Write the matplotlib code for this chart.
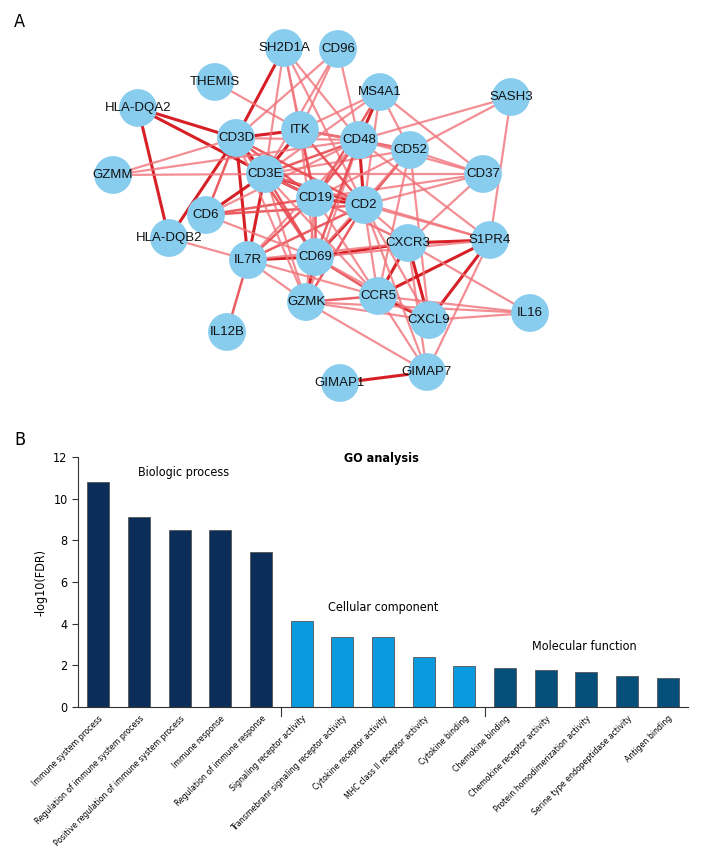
import matplotlib
matplotlib.use("Agg")
import matplotlib.pyplot as plt
from matplotlib import font_manager
from matplotlib.collections import LineCollection
import numpy as np

# ---------- panel A : PPI network ----------
node_names = ["SH2D1A", "CD96", "THEMIS", "MS4A1", "SASH3", "HLA-DQA2", "ITK", "CD3D",
              "CD48", "CD52", "CD37", "GZMM", "CD3E", "CD19", "CD2", "CD6", "HLA-DQB2",
              "IL7R", "CD69", "CXCR3", "S1PR4", "GZMK", "CCR5", "CXCL9", "IL16", "IL12B",
              "GIMAP1", "GIMAP7"]
node_x = [284, 338, 215, 380, 511, 138, 300, 236, 359, 410, 483, 113, 265, 315, 364, 206, 169,
          248, 315, 408, 490, 306, 378, 429, 530, 227, 340, 427]
node_y = [48, 49, 82, 92, 97, 108, 130, 138, 140, 150, 174, 175, 174, 198, 205, 215, 238,
          260, 257, 243, 240, 302, 296, 320, 313, 332, 383, 372]

# strength 3 = strong (dark red), 2 = medium, 1 = weak (light red)
edges = [
    ("HLA-DQA2", "CD3D", 3), ("HLA-DQA2", "CD3E", 3), ("HLA-DQA2", "HLA-DQB2", 3),
    ("HLA-DQB2", "CD3D", 3), ("SH2D1A", "CD3D", 3), ("CD3D", "ITK", 3), ("CD3D", "CD3E", 3),
    ("CD3E", "CD19", 3), ("CD3E", "CD2", 3), ("CD3E", "CD48", 2), ("CD2", "CD19", 3),
    ("CD2", "CD48", 3), ("CD2", "CD69", 3), ("CD2", "GZMK", 2), ("CD2", "IL7R", 2),
    ("CD69", "IL7R", 3), ("CD69", "CXCR3", 3), ("CXCR3", "S1PR4", 3), ("CCR5", "CXCL9", 3),
    ("CCR5", "S1PR4", 3), ("CCR5", "CXCR3", 3), ("CXCR3", "CXCL9", 3), ("S1PR4", "CXCL9", 3),
    ("GIMAP1", "GIMAP7", 3), ("CD6", "CD3E", 3), ("CD6", "CD3D", 2), ("IL7R", "CD3E", 3),
    ("CD3E", "ITK", 3), ("ITK", "CD48", 2), ("CD48", "MS4A1", 3), ("CD52", "CD48", 2),
    ("GZMK", "CD69", 3), ("IL7R", "CD3D", 3), ("CD6", "CD19", 2), ("CD6", "CD2", 2),
    ("THEMIS", "ITK", 1), ("GZMM", "CD3D", 1), ("GZMM", "CD3E", 1),
    ("SH2D1A", "ITK", 1), ("SH2D1A", "CD48", 1), ("SH2D1A", "CD2", 1), ("SH2D1A", "CD19", 1),
    ("SH2D1A", "CD3E", 1), ("CD96", "ITK", 1), ("CD96", "CD3E", 1), ("CD96", "CD48", 1),
    ("CD96", "CD3D", 1), ("MS4A1", "ITK", 1), ("MS4A1", "CD19", 2), ("MS4A1", "CD2", 1),
    ("MS4A1", "CD52", 1), ("MS4A1", "CD37", 1), ("MS4A1", "CD3E", 1), ("SASH3", "CD48", 1),
    ("SASH3", "CD52", 1), ("SASH3", "S1PR4", 1), ("CD37", "CD48", 1), ("CD37", "CD52", 1),
    ("CD37", "CD2", 1), ("CD37", "CD3E", 1), ("CD37", "CD19", 1), ("CD37", "CXCR3", 1),
    ("CD52", "CD3E", 1), ("CD52", "CD2", 2), ("CD52", "CD19", 1), ("CD52", "CXCL9", 1),
    ("CD52", "CCR5", 1), ("CD52", "CD69", 1), ("CD6", "CD48", 1), ("CD6", "CD69", 1),
    ("HLA-DQB2", "IL7R", 1), ("IL7R", "IL12B", 2), ("IL7R", "CD19", 2), ("IL7R", "GZMK", 1),
    ("IL7R", "CCR5", 1), ("IL7R", "CXCR3", 1), ("IL7R", "CD48", 1), ("GZMK", "CCR5", 2),
    ("GZMK", "CXCL9", 1), ("GZMK", "GIMAP7", 1), ("GZMK", "CD3E", 1), ("GZMK", "IL16", 1),
    ("GZMK", "CD19", 1), ("GZMK", "CD48", 1), ("CCR5", "GIMAP7", 1), ("CCR5", "IL16", 1),
    ("CCR5", "CD69", 2), ("CCR5", "CD19", 1), ("CCR5", "CD3E", 1), ("CCR5", "CD2", 1),
    ("CXCR3", "CD2", 1), ("CXCR3", "IL16", 1), ("CXCR3", "CD19", 1), ("CXCR3", "CD3E", 1),
    ("CXCR3", "GIMAP7", 1), ("S1PR4", "GIMAP7", 1), ("S1PR4", "CD2", 1), ("S1PR4", "CD48", 1),
    ("S1PR4", "CD3E", 1), ("S1PR4", "CD69", 1), ("IL16", "CXCL9", 1), ("CXCL9", "CD2", 1),
    ("CXCL9", "CD69", 1), ("CD69", "CD19", 2), ("CD69", "CD3E", 2), ("CD69", "CD3D", 2),
    ("CD69", "ITK", 1), ("CD69", "CD48", 2), ("CD19", "ITK", 2), ("CD19", "CD48", 2),
    ("CD19", "CD3D", 2), ("CD2", "ITK", 2), ("CD2", "CD3D", 2), ("CD48", "CD3D", 1),
    ("GZMK", "CD3D", 1), ("CD2", "GIMAP7", 1), ("CD52", "ITK", 1), ("GZMM", "CD48", 1),
]

# ---------- panel B : GO analysis ----------
go_terms = ["Immune system process", "Regulation of immune system process",
            "Positive regulation of immune system process", "Immune response",
            "Regulation of immune response", "Signaling receptor activity",
            "Transmebranr signaling receptor activity", "Cytokine receptor activity",
            "MHC class II receptor activity", "Cytokine binding", "Chemokine binding",
            "Chemokine receptor activity", "Protein homodimerization activity",
            "Serine type endopeptidase activity", "Antigen binding"]
go_values = [10.81, 9.13, 8.50, 8.50, 7.44, 4.14, 3.34, 3.34, 2.41, 1.96,
             1.89, 1.76, 1.67, 1.49, 1.41]
go_groups = ["BP"] * 5 + ["CC"] * 5 + ["MF"] * 5
group_colors = {"BP": "#0b2e59", "CC": "#0a9ade", "MF": "#05507a"}

# look for a condensed font for panel B (the original uses a narrow typeface)
narrow_prop = None
for f in font_manager.fontManager.ttflist:
    if ("Narrow" in f.name or "Condensed" in f.name or f.stretch in ("condensed", "semi-condensed")) \
            and f.style == "normal" and f.weight in (400, "normal", "regular", "book"):
        narrow_prop = f
        break
if narrow_prop is not None:
    NFAM = narrow_prop.name
    NSTRETCH = narrow_prop.stretch
else:
    NFAM = "Roboto"
    NSTRETCH = "normal"
narrow = [NFAM, "DejaVu Sans"]

plt.rcParams["font.family"] = ["Liberation Sans", "DejaVu Sans"]

fig = plt.figure(figsize=(7.08, 8.64), dpi=100)

# network axes in pixel units of the top half
axA = fig.add_axes([0, 1 - 432 / 864, 1, 432 / 864])
axA.set_xlim(0, 708)
axA.set_ylim(432, 0)
axA.axis("off")

idx = {n: i for i, n in enumerate(node_names)}
edge_cols = {1: (0.94, 0.45, 0.48, 0.8), 2: (0.91, 0.28, 0.30, 0.88), 3: (0.83, 0.08, 0.10, 0.95)}
edge_w = {1: 1.6, 2: 1.8, 3: 2.2}
segs, cols, lws = [], [], []
for a, b, s in edges:
    i, j = idx[a], idx[b]
    segs.append([(node_x[i], node_y[i]), (node_x[j], node_y[j])])
    cols.append(edge_cols[s])
    lws.append(edge_w[s])
axA.add_collection(LineCollection(segs, colors=cols, linewidths=lws, zorder=1))
axA.scatter(node_x, node_y, s=740, color="#88ccee", edgecolors="none", zorder=2)
for n, x, y in zip(node_names, node_x, node_y):
    axA.text(x, y, n, ha="center", va="center", fontsize=9.5, color="#111111", zorder=3)
axA.text(14, 22, "A", fontsize=13, family=narrow, stretch=NSTRETCH, va="center", ha="left")

# size the tick labels so the longest one is as long as in the original (~180 px)
probe = fig.text(0, 0, go_terms[2], fontsize=10, family=narrow, stretch=NSTRETCH)
fig.canvas.draw()
probe_w = probe.get_window_extent().width
probe.remove()
tick_fs = 10 * 180 / probe_w

# bar chart axes
axB = fig.add_axes([78 / 708, 157 / 864, 610 / 708, 250 / 864])
xpos = np.arange(len(go_terms))
axB.bar(xpos, go_values, width=0.54, color=[group_colors[g] for g in go_groups],
        edgecolor="#555555", linewidth=0.6, zorder=2)
axB.set_xlim(-0.5, 14.5)
axB.set_ylim(0, 12)
axB.set_yticks(range(0, 13, 2))
axB.spines["top"].set_visible(False)
axB.spines["right"].set_visible(False)
axB.spines["left"].set_color("#333333")
axB.spines["bottom"].set_color("#333333")
axB.tick_params(axis="y", labelsize=9, length=4, color="#333333")
for lab in axB.get_yticklabels():
    lab.set_family(narrow)
    lab.set_stretch(NSTRETCH)
axB.set_xticks(xpos)
axB.set_xticklabels(go_terms, rotation=45, ha="right", va="top", rotation_mode="anchor",
                    fontsize=tick_fs, family=narrow, stretch=NSTRETCH)
axB.tick_params(axis="x", length=0, pad=5)
axB.set_ylabel("-log10(FDR)", fontsize=9, family=narrow, stretch=NSTRETCH, labelpad=4)

# group separators below the axis
for sep in [4.5, 9.5]:
    axB.plot([sep, sep], [0, -0.45], color="#333333", lw=0.8, clip_on=False)

lbl = dict(fontsize=9, family=narrow, stretch=NSTRETCH, ha="center", va="center")
axB.text(2.1, 11.25, "Biologic process", **lbl)
axB.text(7.0, 4.8, "Cellular component", **lbl)
axB.text(11.95, 2.9, "Molecular function", **lbl)
axB.text(6.95, 11.95, "GO analysis", fontweight="bold", **lbl)
fig.text(14 / 708, 1 - 440 / 864, "B", fontsize=13, family=narrow, stretch=NSTRETCH,
         va="center", ha="left")

fig.savefig("out.png", dpi=100)
